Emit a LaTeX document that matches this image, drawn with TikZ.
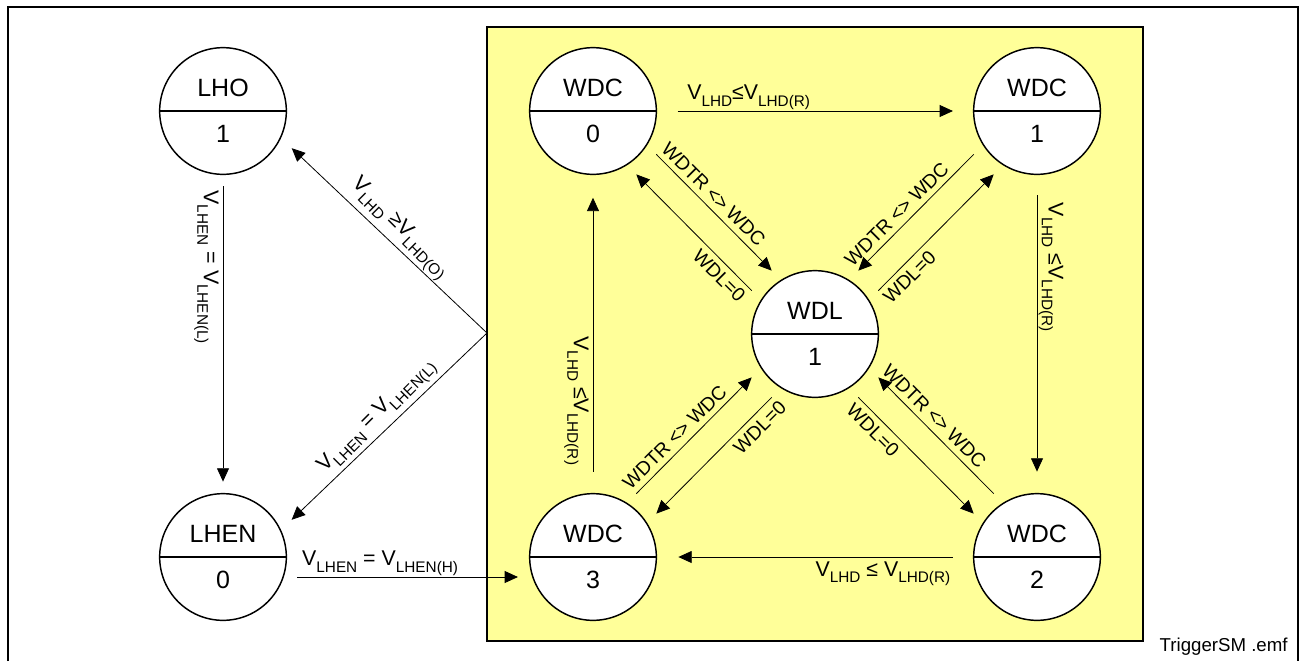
\documentclass[tikz,border=0pt]{standalone}
\usepackage{fontspec}
\setmainfont{Liberation Sans}
\usetikzlibrary{arrows.meta}
\definecolor{panelyellow}{RGB}{255,255,153}
\newcommand{\lo}[1]{\raisebox{-5pt}{\fontsize{11.5}{11.5}\selectfont #1}}
\tikzset{every picture/.style={line width=0.6pt}}
\tikzset{
  state/.style={circle, draw, line width=1.1pt, fill=white, minimum size=95pt, inner sep=0pt, align=center,
    font=\fontsize{18.75}{34.5}\selectfont,
    path picture={\draw[line width=2pt] (path picture bounding box.west) -- (path picture bounding box.east);}},
  trans/.style={-{Triangle[length=10pt,width=9pt]}, line width=0.6pt},
  cond/.style={font=\fontsize{16}{16}\selectfont, inner sep=1pt},
  wdlbl/.style={font=\fontsize{14.5}{14.5}\selectfont, inner sep=4pt},
  pair/.style={trans, shorten <=8.5pt, shorten >=8.5pt},
}

\begin{document}
\begin{tikzpicture}[x=0.75pt,y=0.75pt,yscale=-1,xscale=1]
\useasboundingbox (0,0) rectangle (1299,661);

%Frame
\draw[line width=1.6pt] (8,661) -- (8,7) -- (1298,7) -- (1298,661);
%Watchdog area
\draw[line width=1.5pt, fill=panelyellow] (487,27) rectangle (1143,641);
\coordinate (junc) at (487,333);

% States
\node[state] (lho) at (223,111) {LHO\\1};
\node[state] (lhen) at (223,557) {LHEN\\0};
\node[state] (wdc0) at (593,111) {WDC\\0};
\node[state] (wdc1) at (1037,111) {WDC\\1};
\node[state] (wdc2) at (1037,557) {WDC\\2};
\node[state] (wdc3) at (593,557) {WDC\\3};
\node[state] (wdl) at (815,334) {WDL\\1};

% Outer transitions
\draw[trans, shorten <=8.5pt, shorten >=8.5pt] (lho) -- node[cond, pos=0.29, rotate=-90, anchor=north, inner sep=3pt] {V\lo{LHEN} = V\lo{LHEN(L)}} (lhen);
\draw[trans] ([shift={(10,20)}]lhen.east) -- node[cond, pos=0.376, above] {V\lo{LHEN} = V\lo{LHEN(H)}} ([shift={(-11,20)}]wdc3.west);
\draw[trans, shorten >=11pt] (junc) -- node[cond, pos=0.48, rotate=-45, anchor=south, inner sep=2pt] {V\lo{LHD} ≥V\lo{LHD(O)}} (lho.-25);
\draw[trans, shorten >=11pt] (junc) -- node[cond, pos=0.48, rotate=45, anchor=south, inner sep=2pt] {V\lo{LHEN} = V\lo{LHEN(L)}} (lhen.25);

% Ring of WDC states
\draw[trans, shorten <=15.5pt, shorten >=15pt] (wdc0) -- node[cond, pos=0.29, above] {V\lo{LHD}≤V\lo{LHD(R)}} (wdc1);
\draw[trans, shorten <=15pt, shorten >=16pt] (wdc1) -- node[cond, pos=0.29, rotate=-90, anchor=south] {V\lo{LHD} ≤V\lo{LHD(R)}} (wdc2);
\draw[trans, shorten <=15pt, shorten >=16pt] (wdc2) -- node[cond, pos=0.285, below, inner sep=3pt] {V\lo{LHD} ≤ V\lo{LHD(R)}} (wdc3);
\draw[trans, shorten <=16pt, shorten >=17pt] (wdc3) -- node[cond, pos=0.29, rotate=-90, anchor=north, inner sep=3pt] {V\lo{LHD} ≤V\lo{LHD(R)}} (wdc0);

% WDL pairs
\draw[pair] ([shift={(10,-10)}]wdc0.-45) -- node[wdlbl, pos=0.43, rotate=-45, anchor=south] {WDTR <> WDC} ([shift={(10,-10)}]wdl.135);
\draw[pair] ([shift={(-10,10)}]wdl.135) -- node[wdlbl, pos=0.24, rotate=-45, anchor=north] {WDL=0} ([shift={(-10,10)}]wdc0.-45);
\draw[pair] ([shift={(-10,-10)}]wdc1.-135) -- node[wdlbl, pos=0.58, rotate=45, anchor=south] {WDTR <> WDC} ([shift={(-10,-10)}]wdl.45);
\draw[pair] ([shift={(10,10)}]wdl.45) -- node[wdlbl, pos=0.23, rotate=45, anchor=north] {WDL=0} ([shift={(10,10)}]wdc1.-135);
\draw[pair] ([shift={(-10,-10)}]wdc3.45) -- node[wdlbl, pos=0.42, rotate=45, anchor=south] {WDTR <> WDC} ([shift={(-10,-10)}]wdl.-135);
\draw[pair] ([shift={(10,10)}]wdl.-135) -- node[wdlbl, pos=0.22, rotate=45, anchor=north] {WDL=0} ([shift={(10,10)}]wdc3.45);
\draw[pair] ([shift={(10,-10)}]wdc2.135) -- node[wdlbl, pos=0.58, rotate=-45, anchor=south] {WDTR <> WDC} ([shift={(10,-10)}]wdl.-45);
\draw[pair] ([shift={(-10,10)}]wdl.-45) -- node[wdlbl, pos=0.24, rotate=-45, anchor=north] {WDL=0} ([shift={(-10,10)}]wdc2.135);

% File name
\node[font=\fontsize{14}{14}\selectfont, anchor=south east, inner sep=0pt] (fname) at (1288,656) {TriggerSM .emf};

\end{tikzpicture}
\end{document}
